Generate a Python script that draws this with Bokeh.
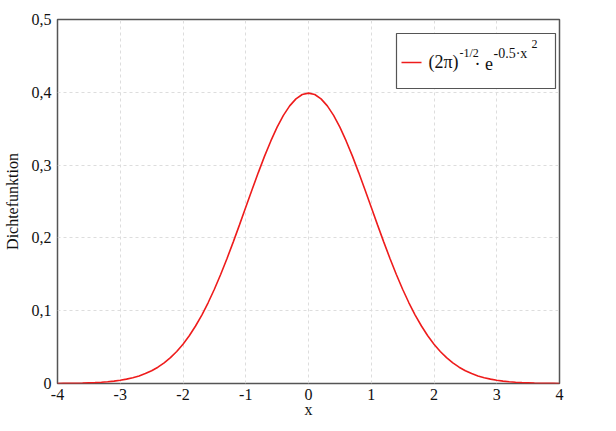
from bokeh.plotting import figure
from bokeh.models import (Range1d, FixedTicker, CustomJSTickFormatter, BoxAnnotation,
                          Label, Arrow, ColumnDataSource)
from bokeh.embed import file_html
from bokeh.resources import INLINE

# ---- data ----
x_vals = [-4.0, -3.9, -3.8, -3.7, -3.6, -3.5, -3.4, -3.3, -3.2, -3.1,
          -3.0, -2.9, -2.8, -2.7, -2.6, -2.5, -2.4, -2.3, -2.2, -2.1,
          -2.0, -1.9, -1.8, -1.7, -1.6, -1.5, -1.4, -1.3, -1.2, -1.1,
          -1.0, -0.9, -0.8, -0.7, -0.6, -0.5, -0.4, -0.3, -0.2, -0.1,
          0.0, 0.1, 0.2, 0.3, 0.4, 0.5, 0.6, 0.7, 0.8, 0.9,
          1.0, 1.1, 1.2, 1.3, 1.4, 1.5, 1.6, 1.7, 1.8, 1.9,
          2.0, 2.1, 2.2, 2.3, 2.4, 2.5, 2.6, 2.7, 2.8, 2.9,
          3.0, 3.1, 3.2, 3.3, 3.4, 3.5, 3.6, 3.7, 3.8, 3.9, 4.0]
density = [0.0001, 0.0002, 0.0003, 0.0004, 0.0006, 0.0009, 0.0012, 0.0017, 0.0024, 0.0033,
           0.0044, 0.0060, 0.0079, 0.0104, 0.0136, 0.0175, 0.0224, 0.0283, 0.0355, 0.0440,
           0.0540, 0.0656, 0.0790, 0.0940, 0.1109, 0.1295, 0.1497, 0.1714, 0.1942, 0.2179,
           0.2420, 0.2661, 0.2897, 0.3123, 0.3332, 0.3521, 0.3683, 0.3814, 0.3910, 0.3970,
           0.3989, 0.3970, 0.3910, 0.3814, 0.3683, 0.3521, 0.3332, 0.3123, 0.2897, 0.2661,
           0.2420, 0.2179, 0.1942, 0.1714, 0.1497, 0.1295, 0.1109, 0.0940, 0.0790, 0.0656,
           0.0540, 0.0440, 0.0355, 0.0283, 0.0224, 0.0175, 0.0136, 0.0104, 0.0079, 0.0060,
           0.0044, 0.0033, 0.0024, 0.0017, 0.0012, 0.0009, 0.0006, 0.0004, 0.0003, 0.0002, 0.0001]

x_ticks = [-4, -3, -2, -1, 0, 1, 2, 3, 4]
y_ticks = [0, 0.1, 0.2, 0.3, 0.4, 0.5]

FONT = "Liberation Serif"
RED = "#ee1c1c"
FRAME = "#555555"

p = figure(frame_width=502, frame_height=364, output_backend="svg", toolbar_location=None,
           x_range=Range1d(-4, 4), y_range=Range1d(0, 0.5),
           min_border_left=50, min_border_right=48, min_border_top=19, min_border_bottom=32)
p.background_fill_color = "white"
p.border_fill_color = "white"
p.outline_line_color = FRAME
p.outline_line_width = 1.5
p.outline_line_alpha = 1.0

for ax in (p.xaxis[0], p.yaxis[0]):
    ax.axis_line_color = None
    ax.major_tick_line_color = None
    ax.minor_tick_line_color = None
    ax.major_tick_out = 0
    ax.major_tick_in = 0
    ax.minor_tick_out = 0
    ax.minor_tick_in = 0
    ax.major_label_text_font = FONT
    ax.major_label_text_font_size = "16px"
    ax.major_label_text_color = "#111111"
    ax.axis_label_text_font = FONT
    ax.axis_label_text_font_size = "16px"
    ax.axis_label_text_font_style = "normal"
    ax.axis_label_text_color = "#111111"

p.xaxis.ticker = FixedTicker(ticks=x_ticks)
p.yaxis.ticker = FixedTicker(ticks=y_ticks)
p.yaxis.formatter = CustomJSTickFormatter(
    code="return Math.abs(tick) < 1e-9 ? '0' : tick.toFixed(1).replace('.', ',');")
p.xaxis.formatter = CustomJSTickFormatter(code="return tick.toFixed(0);")
p.xaxis.axis_label = "x"
p.yaxis.axis_label = "Dichtefunktion"
p.xaxis.major_label_standoff = 5
p.xaxis.axis_label_standoff = -2
p.yaxis.major_label_standoff = 6
p.yaxis.axis_label_standoff = 8

p.grid.grid_line_color = "#dddddd"
p.grid.grid_line_dash = "3 3"
p.grid.grid_line_width = 1

src = ColumnDataSource(data=dict(x=x_vals, y=density))
p.line("x", "y", source=src, line_color=RED, line_width=1.6)

# ---- legend (built from annotations, positioned in reference pixel coords) ----
def dx(px):
    return -4 + (px - 58) * 8 / 502

def dy(py):
    return (383 - py) * 0.5 / 364

p.add_layout(BoxAnnotation(left=dx(397), right=dx(556), top=dy(33), bottom=dy(88),
                           fill_color="white", fill_alpha=1.0,
                           line_color=FRAME, line_width=1.2, line_alpha=1.0))
p.add_layout(Arrow(end=None, start=None, x_start=dx(402), y_start=dy(62),
                   x_end=dx(422), y_end=dy(62), line_color=RED, line_width=1.6))

def lab(txt, px, py, size):
    p.add_layout(Label(x=dx(px), y=dy(py), text=txt, text_font=FONT,
                       text_font_size=size, text_color="#111111",
                       text_baseline="middle", text_align="left"))

lab("(2\u03c0)", 429, 61, "18px")
lab("-1/2", 460, 52, "12px")
lab("\u00b7 e", 475, 63, "18px")
lab("-0.5\u00b7x", 494, 53, "14px")
lab("2", 532, 43, "12px")

open("out.html", "w").write(file_html(p, INLINE))
